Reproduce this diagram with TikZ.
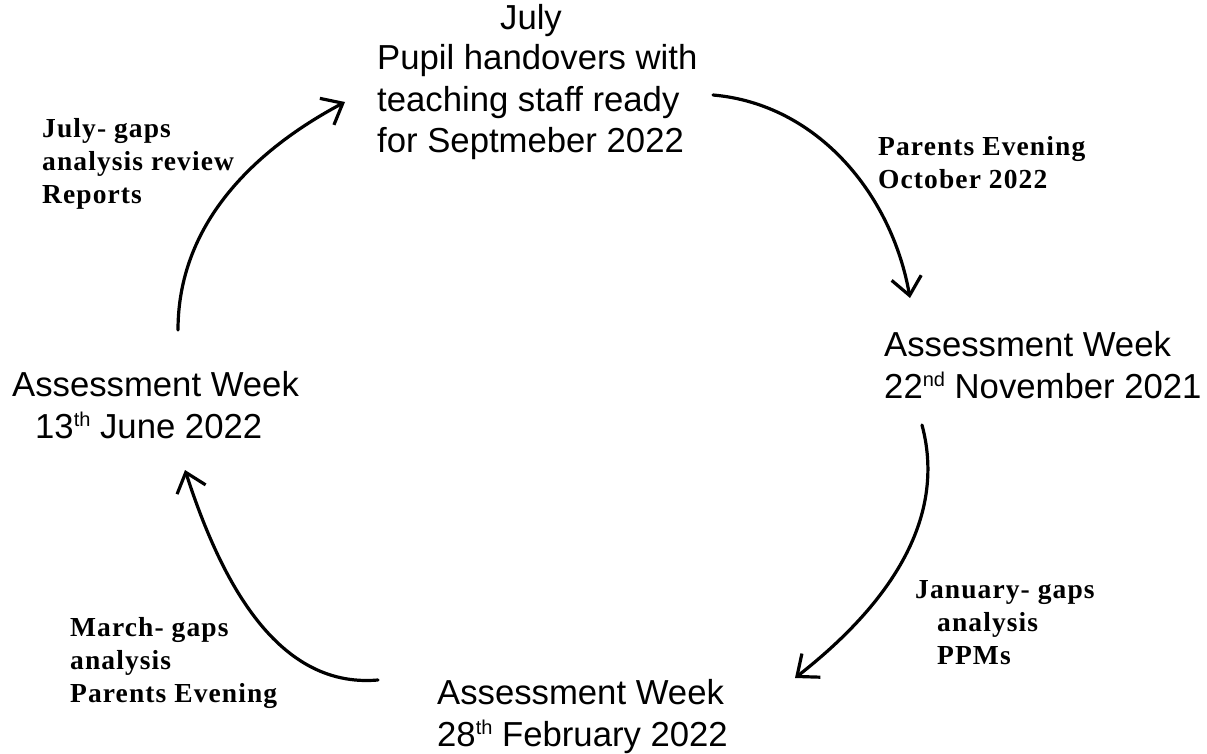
\documentclass[tikz,border=0pt]{standalone}
\usepackage{fontspec}
\setmainfont{Liberation Sans}
\newfontfamily\lblfont[LetterSpace=4]{Liberation Serif}
\usetikzlibrary{arrows.meta}
\newcommand{\smallsup}[1]{\raisebox{12pt}{\fontsize{20}{20}\selectfont #1}}
\tikzset{
  main/.style={inner sep=0pt, font=\fontsize{34.7}{41.5}\selectfont, text=black},
  lbl/.style={inner sep=0pt, align=left, font=\lblfont\bfseries\fontsize{27.5}{33}\selectfont, text=black},
  cyc/.style={line width=3.2pt, -{Straight Barb[length=18pt,width=30pt,line width=3.2pt]}, line cap=round}
}
\begin{document}
\begin{tikzpicture}[x=1pt,y=-1pt]
\useasboundingbox (0,0) rectangle (1207,754);
% main texts
\node[main, anchor=base] (julyt) at (531,30) {July};
\node[main, anchor=base west, align=left] (top) at (377,153) {Pupil handovers with\\teaching staff ready\\for Septmeber 2022};
\node[main, anchor=base west, align=left] (right) at (884,398) {Assessment Week\\22\smallsup{nd} November 2021};
\node[main, anchor=base west, align=left] (left) at (12,438) {Assessment Week\\\hspace*{23pt}13\smallsup{th} June 2022};
\node[main, anchor=base west, align=left] (bottom) at (437,746) {Assessment Week\\28\smallsup{th} February 2022};
% labels
\node[lbl, anchor=base west] (l1) at (42,204) {July- gaps\\analysis review\\Reports};
\node[lbl, anchor=base west] (l2) at (878,189) {Parents Evening\\October 2022};
\node[lbl, anchor=base west] (l3a) at (915,598) {January- gaps};
\node[lbl, anchor=base west] (l3) at (937,664) {analysis\\PPMs};
\node[lbl, anchor=base west] (l4) at (70,702) {March- gaps\\analysis\\Parents Evening};
% arrow end points
\coordinate (a1s) at (178,330);
\coordinate (a1e) at (345,102);
\coordinate (a2s) at (713,95);
\coordinate (a2e) at (910,298);
\coordinate (a3s) at (922,425);
\coordinate (a3e) at (795,678);
\coordinate (a4s) at (378,680);
\coordinate (a4e) at (185,470);
\draw[cyc] (a1s) to[out=90, in=208, looseness=0.95] (a1e);
\draw[cyc] (a2s) to[out=-5, in=100, looseness=0.95] (a2e);
\draw[cyc] (a3s) to[out=-75, in=38, looseness=0.95] (a3e);
\draw[cyc] (a4s) to[out=185, in=-72, looseness=0.95] (a4e);
\end{tikzpicture}
\end{document}
